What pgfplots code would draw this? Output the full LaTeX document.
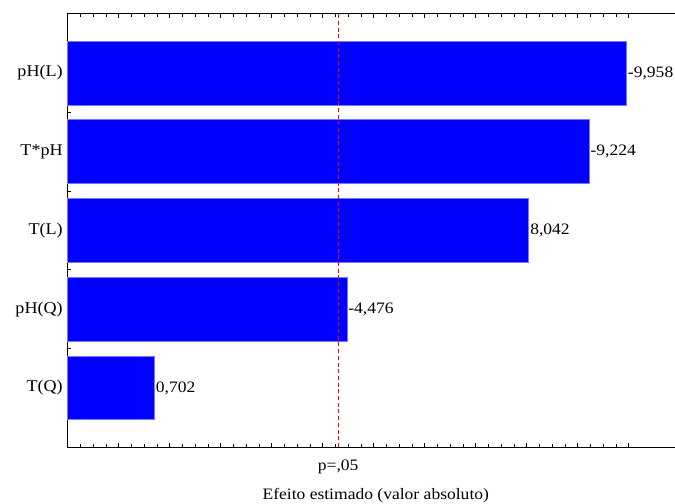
\documentclass[border=0pt]{standalone}
\usepackage{pgfplots}
\pgfplotsset{compat=1.18}
\usepackage{pgfplotstable}
\usepackage{fontspec}
\setmainfont{Liberation Serif}[FakeStretch=1.1]

% Standardized effects (absolute value) and the signed value printed beside each bar
\pgfplotstableread{
pos effect label
4 9.958 -9,958
3 9.224 -9,224
2 8.042 8,042
1 4.476 -4,476
0 0.702 0,702
}\effects

\definecolor{barblue}{RGB}{0,0,255}
\definecolor{baredge}{RGB}{120,120,255}

\begin{document}
\begin{tikzpicture}
% The effect scale begins at -1; coordinates are shifted by +1 so that
% each bar grows from the left edge of the frame.
\begin{axis}[
  at={(0,0)}, anchor=south west,
  scale only axis,
  width=608.3bp, height=433bp,
  xmin=0, xmax=11.927,
  ymin=-0.75, ymax=4.75,
  font=\fontsize{16}{19}\selectfont,
  axis line style={black, line width=1bp},
  tick style={black, line width=0.8bp},
  tick align=inside,
  major tick length=4.5bp,
  minor tick length=3bp,
  xtick={0,...,11}, xticklabels={},
  minor x tick num=3,
  ytick={0,...,4},
  yticklabels={T(Q),pH(Q),T(L),T*pH,pH(L)},
  yticklabel style={font=\fontsize{16.5}{19}\selectfont, xshift=-1.5bp},
  minor y tick num=3,
  ytick pos=left,
  xtick pos=both,
  clip=false,
  nodes near coords,
  point meta=explicit symbolic,
  every node near coord/.append style={anchor=west, inner sep=1bp, font=\fontsize{16}{19}\selectfont},
]
\addplot[xbar, bar width=0.81, bar shift=0pt, fill=barblue, draw=baredge, line width=0.8bp]
  table[x expr=\thisrow{effect}+1, y=pos, meta=label] {\effects};

% critical value of the effect at p = .05
\draw[red, line width=1.1bp, dash pattern=on 4bp off 2.7bp]
  (axis cs:5.303,-0.75) -- (axis cs:5.303,4.75);
\node[anchor=base, inner sep=0pt] at ([yshift=-23bp]axis cs:5.303,-0.75) {p=,05};
\node[anchor=base, inner sep=0pt] at ([yshift=-52bp]axis cs:6.04,-0.75) {Efeito estimado (valor absoluto)};
\end{axis}
\pgfresetboundingbox
\path (-67.7bp,-57bp) rectangle (607.3bp,447bp);
\end{tikzpicture}
\end{document}
